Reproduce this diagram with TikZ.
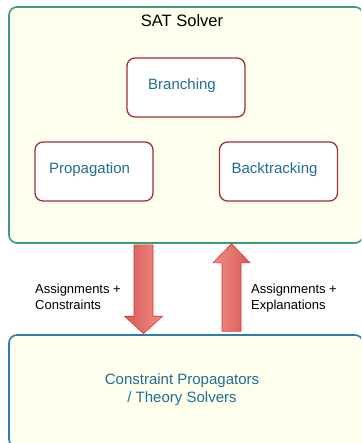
\documentclass[tikz,border=0pt]{standalone}
\usepackage{fontspec}
\setmainfont{Liberation Sans}
\definecolor{panelfill}{HTML}{FFFFEE}
\definecolor{solverline}{HTML}{3E9A7E}
\definecolor{theoryline}{HTML}{2C7BB3}
\definecolor{moduleline}{HTML}{A62B48}
\definecolor{moduletext}{HTML}{1F6E94}
\definecolor{arrowdark}{HTML}{D65A55}
\definecolor{arrowlight}{HTML}{F28C86}
\definecolor{arrowline}{HTML}{D23A30}
\tikzset{
  x=1pt, y=1pt,
  panel/.style={draw, line width=1.6pt, fill=panelfill, rounded corners=8pt, inner sep=0pt},
  module/.style={draw=moduleline, line width=1.3pt, fill=white, rounded corners=8pt,
    minimum width=118pt, minimum height=59pt, inner sep=0pt},
  modlabel/.style={text=moduletext, font=\fontsize{15}{18}\selectfont},
  flowlabel/.style={align=left, anchor=north west, inner sep=0pt,
    font=\fontsize{13}{15.5}\selectfont},
  fatarrow/.style={draw=arrowline, line width=0.6pt, line join=miter},
}
\begin{document}
\begin{tikzpicture}
\useasboundingbox (0,0) rectangle (361,-443);
\clip (0,0) rectangle (361,-443);

% SAT solver panel
\node[panel, draw=solverline, minimum width=354pt, minimum height=236pt] (sat) at (186,-125) {};
\node[font=\fontsize{16.5}{19}\selectfont] (title) at (182,-21) {SAT Solver};
\node[module] (branch) at (186,-87.5) {};
\node[modlabel] (branchT) at (182,-86) {Branching};
\node[module] (prop) at (94,-171.5) {};
\node[modlabel] (propT) at (89.5,-170) {Propagation};
\node[module] (back) at (278.5,-171.5) {};
\node[modlabel] (backT) at (274.5,-170) {Backtracking};

% theory panel
\node[panel, draw=theoryline, minimum width=354pt, minimum height=112pt] (tp) at (186,-391) {};
\node[modlabel, align=center, font=\fontsize{15}{18}\selectfont] (tpT) at (182,-390)
  {Constraint Propagators\\/ Theory Solvers};

% down arrow: SAT solver -> theory solvers
\coordinate (dtop) at (sat.south -| 143.5,0);
\coordinate (dtip) at (tp.north -| 143.5,0);
\shadedraw[fatarrow, left color=arrowdark, right color=arrowlight]
  ([xshift=-9.5pt,yshift=-1pt]dtop) -- ([xshift=9.5pt,yshift=-1pt]dtop)
  -- ([xshift=9.5pt,yshift=18pt]dtip) -- ([xshift=19pt,yshift=18pt]dtip)
  -- ([yshift=0.5pt]dtip) -- ([xshift=-19pt,yshift=18pt]dtip)
  -- ([xshift=-9.5pt,yshift=18pt]dtip) -- cycle;

% up arrow: theory solvers -> SAT solver
\coordinate (ubot) at (tp.north -| 231.5,0);
\coordinate (utip) at (sat.south -| 231.5,0);
\shadedraw[fatarrow, left color=arrowlight, right color=arrowdark]
  ([xshift=-9.5pt,yshift=3pt]ubot) -- ([xshift=9.5pt,yshift=3pt]ubot)
  -- ([xshift=9.5pt,yshift=-19pt]utip) -- ([xshift=18.5pt,yshift=-19pt]utip)
  -- (utip) -- ([xshift=-18.5pt,yshift=-19pt]utip)
  -- ([xshift=-9.5pt,yshift=-19pt]utip) -- cycle;

% arrow labels
\node[flowlabel] (down) at (35,-284) {Assignments +\\Constraints};
\node[flowlabel] (up) at (251,-284) {Assignments +\\Explanations};
\end{tikzpicture}
\end{document}
